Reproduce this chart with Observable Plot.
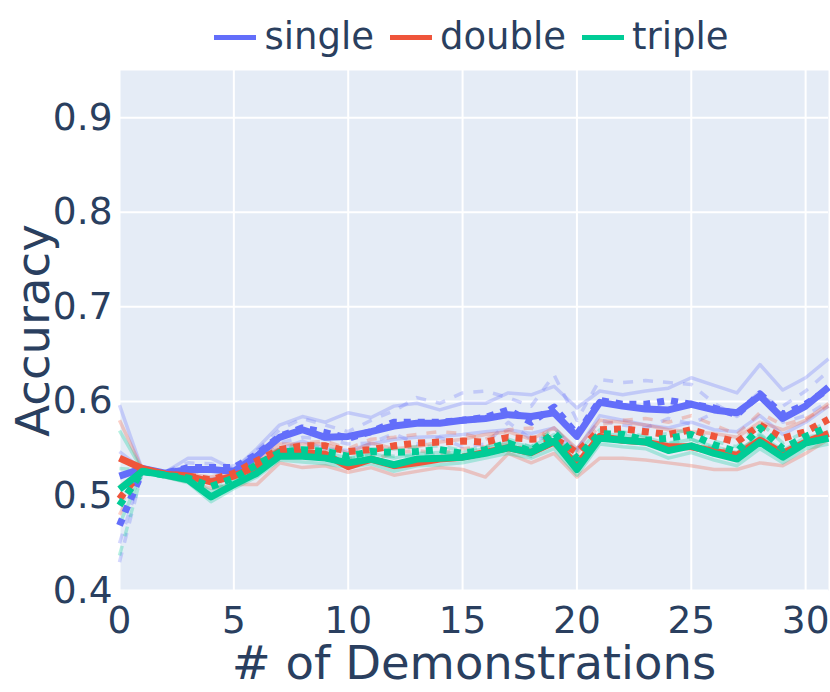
<!DOCTYPE html>
<html>
<head>
<meta charset="utf-8">
<script src="https://cdn.jsdelivr.net/npm/d3@7"></script>
<script src="https://cdn.jsdelivr.net/npm/@observablehq/plot@0.6"></script>
<style>
  html, body { margin: 0; padding: 0; background: #fff; }
  #wrap { width: 830px; height: 692px; font-family: "DejaVu Sans", sans-serif; color: #2a3f5f; }
  #legend { height: 62px; box-sizing: border-box; padding-top: 12px; margin-left: 117px; width: 709px;
            display: flex; justify-content: center; align-items: center; font-size: 37px; line-height: 50px; }
  .item { display: flex; align-items: center; margin: 0 8px; }
  .sw { width: 42px; height: 5px; margin-right: 8px; }
  svg { display: block; }
  g[aria-label="y-axis label"] text, g[aria-label="x-axis label"] text { font-size: 46.5px; }
</style>
</head>
<body>
<div id="wrap">
  <div id="legend"></div>
  <div id="chart"></div>
</div>
<script>
// ---- data ----
const demos = [0,1,2,3,4,5,6,7,8,9,10,11,12,13,14,15,16,17,18,19,20,21,22,23,24,25,26,27,28,29,30,31];
const groups = ["single", "double", "triple"];
const groupColors = ["#636efa", "#EF553B", "#00cc96"];
const xTicks = [0, 5, 10, 15, 20, 25, 30];
const yTicks = [0.4, 0.5, 0.6, 0.7, 0.8, 0.9];

// bold means
const singleSolid  = [0.521,0.529,0.524,0.528,0.528,0.526,0.542,0.562,0.570,0.562,0.563,0.568,0.574,0.577,0.577,0.580,0.582,0.586,0.584,0.588,0.563,0.599,0.595,0.592,0.591,0.597,0.591,0.588,0.606,0.582,0.595,0.615];
const singleDotted = [0.469,0.526,0.524,0.530,0.530,0.530,0.544,0.563,0.572,0.567,0.561,0.568,0.578,0.578,0.578,0.580,0.583,0.591,0.578,0.594,0.565,0.601,0.597,0.597,0.601,0.597,0.593,0.586,0.608,0.586,0.597,0.613];
const doubleSolid  = [0.540,0.529,0.523,0.521,0.515,0.521,0.531,0.547,0.546,0.544,0.531,0.539,0.532,0.535,0.539,0.541,0.546,0.551,0.546,0.557,0.533,0.563,0.559,0.557,0.552,0.552,0.547,0.543,0.559,0.545,0.557,0.566];
const doubleDotted = [0.497,0.528,0.523,0.521,0.517,0.524,0.537,0.549,0.553,0.553,0.547,0.549,0.553,0.556,0.557,0.558,0.557,0.562,0.560,0.561,0.546,0.570,0.571,0.568,0.565,0.570,0.563,0.557,0.575,0.561,0.568,0.581];
const tripleSolid  = [0.507,0.526,0.522,0.517,0.499,0.512,0.524,0.542,0.542,0.540,0.535,0.539,0.533,0.539,0.540,0.541,0.545,0.551,0.546,0.558,0.528,0.561,0.559,0.557,0.548,0.553,0.545,0.539,0.557,0.541,0.556,0.561];
const tripleDotted = [0.490,0.526,0.522,0.519,0.510,0.519,0.533,0.546,0.549,0.547,0.542,0.547,0.546,0.547,0.549,0.545,0.549,0.556,0.547,0.567,0.540,0.566,0.565,0.559,0.561,0.565,0.554,0.547,0.572,0.550,0.563,0.573];

// faint individual runs
const singleRunA = [0.596,0.527,0.525,0.540,0.540,0.528,0.550,0.575,0.584,0.578,0.588,0.583,0.595,0.598,0.591,0.598,0.598,0.609,0.607,0.616,0.593,0.611,0.607,0.611,0.614,0.625,0.617,0.609,0.639,0.612,0.625,0.645];
const singleRunB = [0.547,0.528,0.522,0.520,0.518,0.522,0.535,0.550,0.558,0.550,0.548,0.555,0.560,0.562,0.563,0.565,0.568,0.570,0.566,0.572,0.548,0.585,0.580,0.575,0.572,0.578,0.570,0.568,0.585,0.565,0.578,0.595];
const singleRunC = [0.450,0.527,0.526,0.535,0.534,0.528,0.548,0.570,0.582,0.575,0.568,0.580,0.590,0.604,0.598,0.609,0.611,0.604,0.595,0.628,0.580,0.623,0.620,0.622,0.620,0.618,0.598,0.584,0.605,0.595,0.611,0.632];
const singleRunD = [0.430,0.526,0.522,0.525,0.526,0.532,0.540,0.556,0.562,0.560,0.555,0.556,0.566,0.555,0.562,0.552,0.555,0.578,0.560,0.562,0.550,0.580,0.575,0.572,0.582,0.576,0.588,0.590,0.610,0.578,0.585,0.600];
const doubleRunA = [0.580,0.528,0.525,0.523,0.520,0.525,0.537,0.555,0.555,0.555,0.545,0.556,0.550,0.552,0.557,0.560,0.565,0.568,0.560,0.572,0.550,0.580,0.578,0.575,0.570,0.568,0.566,0.562,0.578,0.570,0.580,0.598];
const doubleRunB = [0.510,0.528,0.520,0.515,0.508,0.512,0.512,0.535,0.530,0.532,0.525,0.530,0.522,0.526,0.530,0.528,0.520,0.545,0.535,0.545,0.520,0.540,0.540,0.538,0.535,0.532,0.528,0.528,0.535,0.532,0.545,0.560];
const doubleRunC = [0.490,0.527,0.524,0.522,0.515,0.520,0.538,0.550,0.556,0.558,0.550,0.560,0.562,0.565,0.568,0.566,0.560,0.570,0.572,0.560,0.545,0.575,0.580,0.582,0.578,0.585,0.575,0.565,0.588,0.575,0.582,0.595];
const doubleRunD = [0.480,0.528,0.522,0.518,0.512,0.522,0.532,0.545,0.548,0.547,0.540,0.538,0.545,0.548,0.545,0.550,0.552,0.555,0.548,0.558,0.540,0.560,0.562,0.555,0.552,0.555,0.550,0.548,0.562,0.548,0.556,0.568];
const tripleRunA = [0.569,0.527,0.523,0.518,0.505,0.515,0.528,0.546,0.548,0.546,0.540,0.545,0.540,0.545,0.546,0.546,0.550,0.557,0.552,0.565,0.535,0.566,0.564,0.562,0.555,0.560,0.552,0.546,0.564,0.548,0.562,0.566];
const tripleRunB = [0.470,0.526,0.520,0.514,0.494,0.508,0.520,0.538,0.536,0.534,0.530,0.534,0.526,0.532,0.533,0.535,0.540,0.545,0.540,0.550,0.522,0.555,0.552,0.550,0.540,0.546,0.538,0.532,0.550,0.535,0.550,0.555];
const tripleRunC = [0.529,0.527,0.523,0.521,0.513,0.521,0.536,0.550,0.553,0.550,0.545,0.550,0.550,0.552,0.553,0.548,0.552,0.560,0.552,0.572,0.546,0.570,0.568,0.563,0.566,0.570,0.558,0.552,0.578,0.556,0.568,0.578];
const tripleRunD = [0.437,0.525,0.521,0.517,0.507,0.517,0.530,0.542,0.545,0.544,0.539,0.544,0.542,0.542,0.545,0.542,0.546,0.552,0.542,0.562,0.534,0.562,0.562,0.555,0.556,0.560,0.550,0.542,0.566,0.544,0.558,0.568];

// ---- series table ----
const series = [
  {group: "single", kind: "faintSolid", values: singleRunA},
  {group: "single", kind: "faintSolid", values: singleRunB},
  {group: "single", kind: "faintDash",  values: singleRunC},
  {group: "single", kind: "faintDash",  values: singleRunD},
  {group: "double", kind: "faintSolid", values: doubleRunA},
  {group: "double", kind: "faintSolid", values: doubleRunB},
  {group: "double", kind: "faintDash",  values: doubleRunC},
  {group: "double", kind: "faintDash",  values: doubleRunD},
  {group: "triple", kind: "faintSolid", values: tripleRunA},
  {group: "triple", kind: "faintSolid", values: tripleRunB},
  {group: "triple", kind: "faintDash",  values: tripleRunC},
  {group: "triple", kind: "faintDash",  values: tripleRunD},
  {group: "single", kind: "boldSolid",  values: singleSolid},
  {group: "single", kind: "boldDot",    values: singleDotted},
  {group: "double", kind: "boldSolid",  values: doubleSolid},
  {group: "double", kind: "boldDot",    values: doubleDotted},
  {group: "triple", kind: "boldSolid",  values: tripleSolid},
  {group: "triple", kind: "boldDot",    values: tripleDotted}
];
const styles = {
  faintSolid: {strokeWidth: 3.5, strokeOpacity: 0.28, strokeDasharray: null},
  faintDash:  {strokeWidth: 3.5, strokeOpacity: 0.28, strokeDasharray: "10,10"},
  boldSolid:  {strokeWidth: 7, strokeOpacity: 1, strokeDasharray: null},
  boldDot:    {strokeWidth: 7, strokeOpacity: 1, strokeDasharray: "7,7"}
};
const colorOf = g => groupColors[groups.indexOf(g)];

const lineMarks = series.map(s => {
  const rows = s.values.map((v, i) => ({x: demos[i], y: v}));
  const st = styles[s.kind];
  const opts = {x: "x", y: "y", stroke: colorOf(s.group), strokeWidth: st.strokeWidth,
                strokeOpacity: st.strokeOpacity, strokeLinejoin: "round", strokeLinecap: "butt"};
  if (st.strokeDasharray) opts.strokeDasharray = st.strokeDasharray;
  return Plot.line(rows, opts);
});

// ---- legend ----
const legend = document.getElementById("legend");
groups.forEach((g, i) => {
  const it = document.createElement("div");
  it.className = "item";
  const sw = document.createElement("span");
  sw.className = "sw";
  sw.style.background = groupColors[i];
  const tx = document.createElement("span");
  tx.textContent = g;
  it.appendChild(sw); it.appendChild(tx);
  legend.appendChild(it);
});

// ---- chart ----
const chart = Plot.plot({
  width: 830,
  height: 630,
  marginLeft: 119,
  marginRight: 2,
  marginTop: 8,
  marginBottom: 102,
  style: {fontFamily: "DejaVu Sans, sans-serif", color: "#2a3f5f", background: "#fff", overflow: "visible"},
  x: {domain: [0, 31]},
  y: {domain: [0.4, 0.95]},
  marks: [
    Plot.frame({fill: "#E5ECF6", stroke: null}),
    Plot.gridX(xTicks, {stroke: "#fff", strokeOpacity: 1, strokeWidth: 2}),
    Plot.gridY(yTicks, {stroke: "#fff", strokeOpacity: 1, strokeWidth: 2}),
    ...lineMarks,
    Plot.axisX(xTicks, {tickSize: 0, tickPadding: 16, fontSize: 37.5, fill: "#2a3f5f",
                        label: "# of Demonstrations", labelAnchor: "center", labelArrow: "none", labelOffset: 88}),
    Plot.axisY(yTicks, {tickSize: 0, tickPadding: 7, fontSize: 37.5, fill: "#2a3f5f", tickFormat: d => d.toFixed(1),
                        label: "Accuracy", labelAnchor: "center", labelArrow: "none", labelOffset: 104})
  ]
});
document.getElementById("chart").appendChild(chart);
</script>
</body>
</html>
